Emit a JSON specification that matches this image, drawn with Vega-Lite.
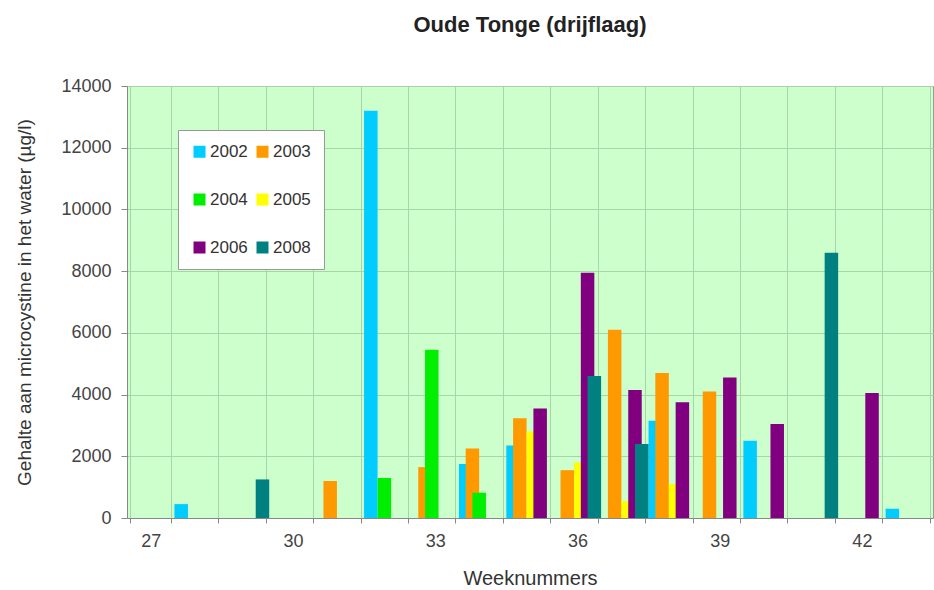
{
  "$schema": "https://vega.github.io/schema/vega-lite/v6.json",
  "width": 806,
  "height": 432,
  "autosize": {"type": "none"},
  "padding": {"left": 127, "top": 86, "right": 1, "bottom": 72},
  "background": "white",
  "title": {"text": "Oude Tonge (drijflaag)", "fontSize": 22, "fontWeight": "bold", "font": "Liberation Sans", "color": "#222", "anchor": "middle", "offset": 40},
  "config": {"view": {"fill": "#ccffcc", "stroke": "#9a9a9a"}, "font": "Liberation Sans"},
  "data": {"values": [
    {"week": 28, "year": "2002", "value": 450},
    {"week": 32, "year": "2002", "value": 13200},
    {"week": 34, "year": "2002", "value": 1750},
    {"week": 35, "year": "2002", "value": 2350},
    {"week": 38, "year": "2002", "value": 3150},
    {"week": 40, "year": "2002", "value": 2500},
    {"week": 43, "year": "2002", "value": 300},
    {"week": 31, "year": "2003", "value": 1200},
    {"week": 33, "year": "2003", "value": 1650},
    {"week": 34, "year": "2003", "value": 2250},
    {"week": 35, "year": "2003", "value": 3230},
    {"week": 36, "year": "2003", "value": 1550},
    {"week": 37, "year": "2003", "value": 6100},
    {"week": 38, "year": "2003", "value": 4700},
    {"week": 39, "year": "2003", "value": 4100},
    {"week": 32, "year": "2004", "value": 1300},
    {"week": 33, "year": "2004", "value": 5450},
    {"week": 34, "year": "2004", "value": 820},
    {"week": 35, "year": "2005", "value": 2800},
    {"week": 36, "year": "2005", "value": 1800},
    {"week": 37, "year": "2005", "value": 550},
    {"week": 38, "year": "2005", "value": 1100},
    {"week": 35, "year": "2006", "value": 3550},
    {"week": 36, "year": "2006", "value": 7950},
    {"week": 37, "year": "2006", "value": 4150},
    {"week": 38, "year": "2006", "value": 3750},
    {"week": 39, "year": "2006", "value": 4550},
    {"week": 40, "year": "2006", "value": 3050},
    {"week": 42, "year": "2006", "value": 4050},
    {"week": 29, "year": "2008", "value": 1250},
    {"week": 36, "year": "2008", "value": 4600},
    {"week": 37, "year": "2008", "value": 2400},
    {"week": 41, "year": "2008", "value": 8600}
  ]},
  "mark": {"type": "bar", "width": 13.5},
  "encoding": {
    "x": {
      "field": "week", "type": "ordinal",
      "scale": {"domain": [27,28,29,30,31,32,33,34,35,36,37,38,39,40,41,42,43], "paddingInner": 0.142857, "paddingOuter": 0.071429},
      "axis": {
        "title": "Weeknummers", "titleFontSize": 20, "titleFontWeight": "normal", "titleColor": "#333", "titlePadding": 18,
        "labelFontSize": 18, "labelColor": "#444", "labelAngle": 0, "labelOverlap": false, "labelPadding": 9,
        "labelExpr": "(datum.value - 27) % 3 == 0 ? datum.value : ''",
        "tickBand": "extent", "grid": true, "gridColor": "#a8d5a8",
        "tickColor": "#888", "tickSize": 5, "domainColor": "#888"
      }
    },
    "xOffset": {"field": "year", "type": "nominal", "scale": {"domain": ["2002","2003","2004","2005","2006","2008"], "paddingInner": 0, "paddingOuter": 0}},
    "y": {
      "field": "value", "type": "quantitative", "stack": null,
      "scale": {"domain": [0, 14000], "nice": false},
      "axis": {
        "title": "Gehalte aan microcystine in het water (µg/l)", "titleFontSize": 19, "titleFontWeight": "normal", "titleColor": "#333", "titlePadding": 26,
        "values": [0,2000,4000,6000,8000,10000,12000,14000], "format": "d",
        "labelFontSize": 18, "labelColor": "#444", "labelPadding": 10,
        "grid": true, "gridColor": "#a8d5a8", "tickSize": 6, "tickColor": "#888", "domainColor": "#888"
      }
    },
    "color": {
      "field": "year", "type": "nominal",
      "scale": {"domain": ["2002","2003","2004","2005","2006","2008"], "range": ["#00ccff","#ff9900","#00ee00","#ffff00","#800080","#008080"]},
      "legend": {
        "orient": "none", "legendX": 51, "legendY": 44, "columns": 2, "direction": "horizontal", "title": null,
        "symbolType": "square", "symbolSize": 144, "symbolStrokeWidth": 0, "symbolOpacity": 1,
        "labelFontSize": 17, "labelColor": "#333", "labelOffset": 2,
        "rowPadding": 30, "columnPadding": 6, "padding": 13,
        "fillColor": "white", "strokeColor": "#999"
      }
    }
  }
}
